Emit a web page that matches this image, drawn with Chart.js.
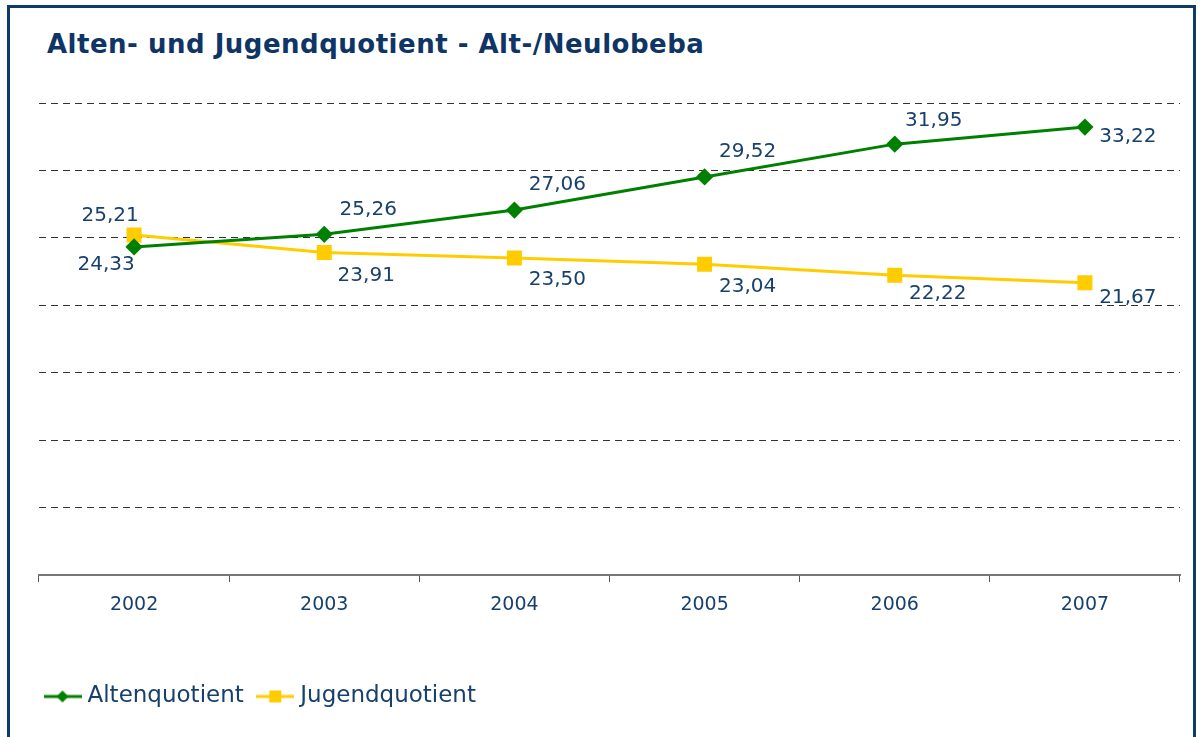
<!DOCTYPE html>
<html>
<head>
<meta charset="utf-8">
<script src="https://cdn.jsdelivr.net/npm/chart.js@4"></script>
<style>
  html, body { margin: 0; padding: 0; background: #fff; }
  body { width: 1200px; height: 737px; position: relative; overflow: hidden; }
  #frame { position: absolute; left: 7px; top: 5px; width: 1183px; height: 780px; border: 3px solid #0f3b6b; }
  #title { position: absolute; left: 47px; top: 29px; font: bold 26px "DejaVu Sans", Verdana, sans-serif; letter-spacing: 0.5px; color: #0e3565; white-space: nowrap; }
  #wrap { position: absolute; left: 0; top: 0; width: 1200px; height: 737px; }
</style>
</head>
<body>
<div id="frame"></div>
<div id="title">Alten- und Jugendquotient - Alt-/Neulobeba</div>
<div id="wrap"><canvas id="chart"></canvas></div>
<script>
const years = ["2002", "2003", "2004", "2005", "2006", "2007"];
const altenquotient = [24.33, 25.26, 27.06, 29.52, 31.95, 33.22];
const jugendquotient = [25.21, 23.91, 23.50, 23.04, 22.22, 21.67];

// where each value label sits relative to its point
const altenLabelOffset = [[-28, 18], [44, -25], [43, -25], [43, -25], [39, -23], [43, 10]];
const jugendLabelOffset = [[-24, -19], [42, 23], [43, 22], [43, 23], [43, 18], [43, 15]];

const textColor = "#17406d";

// legend marker: line with the point symbol in the middle
function legendMarker(color, shape) {
  const c = document.createElement("canvas");
  c.width = 38; c.height = 16;
  const ctx = c.getContext("2d");
  ctx.strokeStyle = color;
  ctx.fillStyle = color;
  ctx.lineWidth = 3;
  ctx.beginPath();
  ctx.moveTo(0, 8); ctx.lineTo(38, 8);
  ctx.stroke();
  ctx.beginPath();
  if (shape === "diamond") {
    ctx.moveTo(19, 2); ctx.lineTo(25, 8); ctx.lineTo(19, 14); ctx.lineTo(13, 8);
  } else {
    ctx.rect(13, 2, 12, 12);
  }
  ctx.closePath();
  ctx.fill();
  return c;
}

const valueLabels = {
  id: "valueLabels",
  afterDatasetsDraw(chart) {
    const ctx = chart.ctx;
    const offsets = [altenLabelOffset, jugendLabelOffset];
    ctx.save();
    ctx.font = '20px "DejaVu Sans", Verdana, sans-serif';
    ctx.fillStyle = textColor;
    ctx.textAlign = "center";
    ctx.textBaseline = "middle";
    chart.data.datasets.forEach((ds, i) => {
      chart.getDatasetMeta(i).data.forEach((pt, j) => {
        const o = offsets[i][j];
        ctx.fillText(ds.data[j].toFixed(2).replace(".", ","), pt.x + o[0], pt.y + o[1]);
      });
    });
    ctx.restore();
  }
};

new Chart(document.getElementById("chart"), {
  type: "line",
  data: {
    labels: years,
    datasets: [
      {
        label: "Altenquotient",
        data: altenquotient,
        borderColor: "#008000",
        backgroundColor: "#008000",
        borderWidth: 3,
        pointStyle: "rectRot",
        pointRadius: 6.5,
        pointHoverRadius: 6.5,
        tension: 0
      },
      {
        label: "Jugendquotient",
        data: jugendquotient,
        borderColor: "#ffcc00",
        backgroundColor: "#ffcc00",
        borderWidth: 3,
        pointStyle: "rect",
        pointRadius: 8.5,
        pointHoverRadius: 8.5,
        tension: 0
      }
    ]
  },
  options: {
    responsive: true,
    maintainAspectRatio: false,
    animation: false,
    layout: { padding: { left: 31, right: 20, top: 103, bottom: 19 } },
    plugins: {
      title: { display: false },
      tooltip: { enabled: false },
      legend: {
        position: "bottom",
        align: "start",
        labels: {
          usePointStyle: true,
          pointStyleWidth: 27,
          padding: 18,
          color: textColor,
          font: { family: '"DejaVu Sans", Verdana, sans-serif', size: 23 },
          generateLabels(chart) {
            return chart.data.datasets.map((ds, i) => ({
              text: ds.label,
              fontColor: textColor,
              pointStyle: legendMarker(ds.borderColor, i === 0 ? "diamond" : "square"),
              datasetIndex: i,
              hidden: false,
              lineWidth: 0
            }));
          }
        }
      }
    },
    scales: {
      x: {
        offset: true,
        afterFit(scale) { scale.height = 92; },
        grid: { offset: true, drawOnChartArea: false, drawTicks: true, tickLength: 7, color: "#555" },
        border: { display: true, color: "#777", width: 2 },
        ticks: { color: textColor, padding: 12, font: { family: '"DejaVu Sans", Verdana, sans-serif', size: 19 } }
      },
      y: {
        min: 0,
        max: 35,
        afterFit(scale) { scale.width = 8; },
        ticks: { display: false, stepSize: 5 },
        grid: {
          drawTicks: false,
          color: (c) => (c.tick && c.tick.value === 0 ? "rgba(0,0,0,0)" : "#333")
        },
        border: { display: false, dash: [7, 5] }
      }
    }
  },
  plugins: [valueLabels]
});
</script>
</body>
</html>
